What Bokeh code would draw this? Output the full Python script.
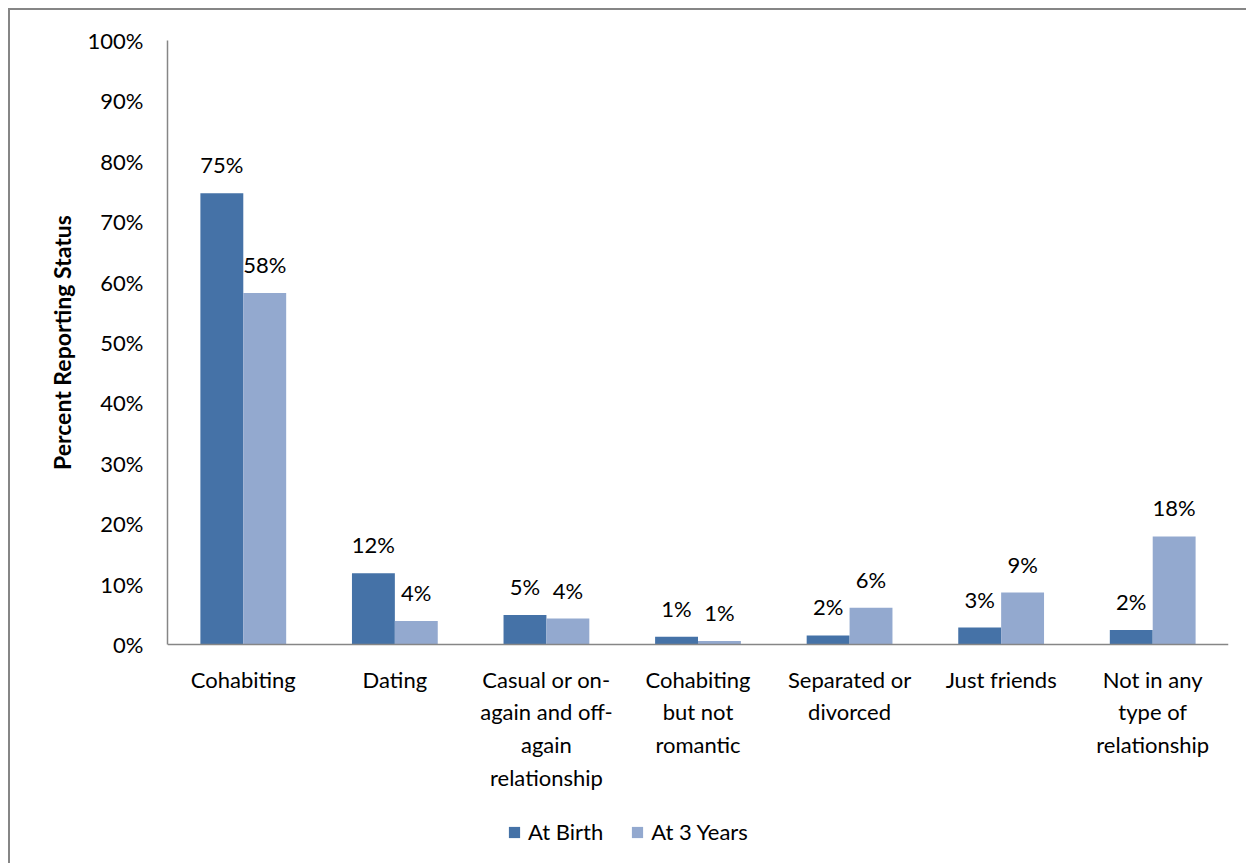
from bokeh.plotting import figure
from bokeh.models import (ColumnDataSource, LabelSet, Legend, LegendItem,
                          FixedTicker, PrintfTickFormatter, Range1d, Title)
from bokeh.core.properties import value
from bokeh.transform import dodge
from bokeh.embed import file_html
from bokeh.resources import INLINE

categories = ["Cohabiting", "Dating", "Casual", "CohabNotRomantic",
              "Separated", "JustFriends", "NotInAny"]
category_labels = ["Cohabiting", "Dating",
                   "Casual or on-\nagain and off-\nagain\nrelationship",
                   "Cohabiting\nbut not\nromantic",
                   "Separated or\ndivorced", "Just friends",
                   "Not in any\ntype of\nrelationship"]
series_names = ["At Birth", "At 3 Years"]
at_birth = [74.7, 11.8, 4.9, 1.3, 1.5, 2.8, 2.4]
at_3_years = [58.2, 3.9, 4.3, 0.6, 6.1, 8.6, 17.9]
y_ticks = [0, 10, 20, 30, 40, 50, 60, 70, 80, 90, 100]
y_title = "Percent Reporting Status"

FONT = "Lato"
C_BIRTH = "#4572A7"
C_3Y = "#93A9CF"
GRAY = "#868686"

# layout (figure pixel coordinates)
FIG_W, FIG_H = 1238, 855
F_LEFT, F_TOP, F_RIGHT = 157, 30, 1218
AXIS0 = 634                       # pixel row of 0 %
PX_PER = (AXIS0 - F_TOP) / 100.0
Y_START = -(FIG_H - AXIS0) / PX_PER

src = ColumnDataSource(dict(
    cat=categories,
    catlab=category_labels,
    birth=at_birth,
    three=at_3_years,
    birth_lab=[f"{v:.0f}%" for v in at_birth],
    three_lab=[f"{v:.0f}%" for v in at_3_years],
    zero=[0] * len(categories),
))

p = figure(x_range=categories, y_range=Range1d(Y_START, 100),
           width=FIG_W, height=FIG_H, output_backend="svg",
           toolbar_location=None,
           min_border_left=F_LEFT, min_border_right=FIG_W - F_RIGHT,
           min_border_top=F_TOP, min_border_bottom=0)
p.styles = {"margin-left": "8px", "margin-top": "8px",
            "border-left": f"2px solid {GRAY}", "border-top": f"2px solid {GRAY}"}
p.outline_line_color = None
p.xgrid.grid_line_color = None
p.ygrid.grid_line_color = None
p.x_range.range_padding = 0
p.xaxis.visible = False

W = 0.283
r1 = p.vbar(x=dodge("cat", -W / 2, range=p.x_range), top="birth", width=W,
            source=src, fill_color=C_BIRTH, line_color=None)
r2 = p.vbar(x=dodge("cat", W / 2, range=p.x_range), top="three", width=W,
            source=src, fill_color=C_3Y, line_color=None)

# category axis line at 0 %
p.segment(x0=0, y0=0, x1=len(categories), y1=0, line_color=GRAY, line_width=1.5)

# value axis
p.yaxis.bounds = (0, 100)
p.yaxis.ticker = FixedTicker(ticks=y_ticks)
p.yaxis.formatter = PrintfTickFormatter(format="%d%%")
p.yaxis.axis_line_color = GRAY
p.yaxis.axis_line_width = 1.5
p.yaxis.major_tick_line_color = None
p.yaxis.minor_tick_line_color = None
p.yaxis.major_tick_out = 0
p.yaxis.major_label_standoff = 24
p.yaxis.major_label_text_font = FONT
p.yaxis.major_label_text_font_size = "22px"
p.yaxis.major_label_text_color = "black"

# axis title, centred on the 0-100 % span
TITLE_LEN = 255
title_bottom = AXIS0 - (AXIS0 - F_TOP) / 2 + TITLE_LEN / 2
p.add_layout(Title(text=y_title, align="left",
                   offset=FIG_H - title_bottom,
                   text_font=FONT, text_font_style="bold",
                   text_font_size="23px", text_color="black",
                   standoff=17), "left")

# value labels
for col, lab, off in (("birth", "birth_lab", -W / 2), ("three", "three_lab", W / 2)):
    ls = LabelSet(x=dodge("cat", off, range=p.x_range), y=col, text=lab, source=src,
                  text_align="center", text_baseline="alphabetic", y_offset=20,
                  text_font=value(FONT), text_font_size="22px", text_color="black")
    p.add_layout(ls)

# category labels
p.text(x="cat", y="zero", text="catlab", source=src,
       text_align="center", text_baseline="top", y_offset=21,
       text_font=value(FONT), text_font_size="22px", text_color="black",
       text_line_height=1.21)

legend = Legend(items=[LegendItem(label=series_names[0], renderers=[r1]),
                       LegendItem(label=series_names[1], renderers=[r2])],
                orientation="horizontal", location=(340, 20),
                glyph_width=14, glyph_height=14, label_standoff=7, spacing=27,
                padding=0, margin=0, border_line_color=None,
                background_fill_alpha=0,
                label_text_font=FONT, label_text_font_size="22px",
                label_text_color="black")
p.add_layout(legend, "center")

open("out.html", "w").write(file_html(p, INLINE))
